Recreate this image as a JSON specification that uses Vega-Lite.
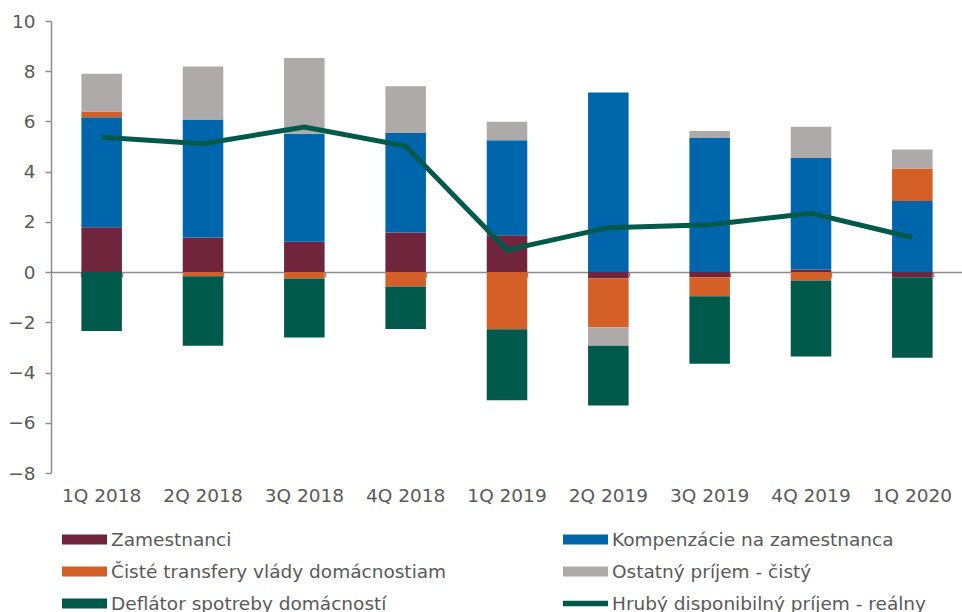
{
  "$schema": "https://vega.github.io/schema/vega-lite/v6.json",
  "width": 912,
  "height": 452,
  "autosize": {"type": "none"},
  "padding": {"left": 51, "top": 21, "right": 0, "bottom": 139},
  "config": {
    "view": {"stroke": null},
    "font": "DejaVu Sans",
    "axis": {"labelFont": "DejaVu Sans", "labelColor": "#595959", "labelFontSize": 18.5, "grid": false}
  },
  "datasets": {
    "bars": [
      {"q": "1Q 2018", "series": "Zamestnanci", "ord": 1, "value": 1.79},
      {"q": "1Q 2018", "series": "Kompenzácie na zamestnanca", "ord": 2, "value": 4.38},
      {"q": "1Q 2018", "series": "Čisté transfery vlády domácnostiam", "ord": 3, "value": 0.23},
      {"q": "1Q 2018", "series": "Ostatný príjem - čistý", "ord": 4, "value": 1.5},
      {"q": "1Q 2018", "series": "Deflátor spotreby domácností", "ord": 5, "value": -2.35},
      {"q": "2Q 2018", "series": "Zamestnanci", "ord": 1, "value": 1.38},
      {"q": "2Q 2018", "series": "Kompenzácie na zamestnanca", "ord": 2, "value": 4.7},
      {"q": "2Q 2018", "series": "Čisté transfery vlády domácnostiam", "ord": 3, "value": -0.16},
      {"q": "2Q 2018", "series": "Ostatný príjem - čistý", "ord": 4, "value": 2.11},
      {"q": "2Q 2018", "series": "Deflátor spotreby domácností", "ord": 5, "value": -2.77},
      {"q": "3Q 2018", "series": "Zamestnanci", "ord": 1, "value": 1.21},
      {"q": "3Q 2018", "series": "Kompenzácie na zamestnanca", "ord": 2, "value": 4.3},
      {"q": "3Q 2018", "series": "Čisté transfery vlády domácnostiam", "ord": 3, "value": -0.25},
      {"q": "3Q 2018", "series": "Ostatný príjem - čistý", "ord": 4, "value": 3.02},
      {"q": "3Q 2018", "series": "Deflátor spotreby domácností", "ord": 5, "value": -2.35},
      {"q": "4Q 2018", "series": "Zamestnanci", "ord": 1, "value": 1.58},
      {"q": "4Q 2018", "series": "Kompenzácie na zamestnanca", "ord": 2, "value": 3.96},
      {"q": "4Q 2018", "series": "Čisté transfery vlády domácnostiam", "ord": 3, "value": -0.57},
      {"q": "4Q 2018", "series": "Ostatný príjem - čistý", "ord": 4, "value": 1.86},
      {"q": "4Q 2018", "series": "Deflátor spotreby domácností", "ord": 5, "value": -1.7},
      {"q": "1Q 2019", "series": "Zamestnanci", "ord": 1, "value": 1.47},
      {"q": "1Q 2019", "series": "Kompenzácie na zamestnanca", "ord": 2, "value": 3.78},
      {"q": "1Q 2019", "series": "Čisté transfery vlády domácnostiam", "ord": 3, "value": -2.28},
      {"q": "1Q 2019", "series": "Ostatný príjem - čistý", "ord": 4, "value": 0.74},
      {"q": "1Q 2019", "series": "Deflátor spotreby domácností", "ord": 5, "value": -2.82},
      {"q": "2Q 2019", "series": "Zamestnanci", "ord": 1, "value": -0.25},
      {"q": "2Q 2019", "series": "Kompenzácie na zamestnanca", "ord": 2, "value": 7.15},
      {"q": "2Q 2019", "series": "Čisté transfery vlády domácnostiam", "ord": 3, "value": -1.95},
      {"q": "2Q 2019", "series": "Ostatný príjem - čistý", "ord": 4, "value": -0.73},
      {"q": "2Q 2019", "series": "Deflátor spotreby domácností", "ord": 5, "value": -2.38},
      {"q": "3Q 2019", "series": "Zamestnanci", "ord": 1, "value": -0.2},
      {"q": "3Q 2019", "series": "Kompenzácie na zamestnanca", "ord": 2, "value": 5.34},
      {"q": "3Q 2019", "series": "Čisté transfery vlády domácnostiam", "ord": 3, "value": -0.76},
      {"q": "3Q 2019", "series": "Ostatný príjem - čistý", "ord": 4, "value": 0.28},
      {"q": "3Q 2019", "series": "Deflátor spotreby domácností", "ord": 5, "value": -2.69},
      {"q": "4Q 2019", "series": "Zamestnanci", "ord": 1, "value": 0.1},
      {"q": "4Q 2019", "series": "Kompenzácie na zamestnanca", "ord": 2, "value": 4.44},
      {"q": "4Q 2019", "series": "Čisté transfery vlády domácnostiam", "ord": 3, "value": -0.33},
      {"q": "4Q 2019", "series": "Ostatný príjem - čistý", "ord": 4, "value": 1.25},
      {"q": "4Q 2019", "series": "Deflátor spotreby domácností", "ord": 5, "value": -3.03},
      {"q": "1Q 2020", "series": "Zamestnanci", "ord": 1, "value": -0.2},
      {"q": "1Q 2020", "series": "Kompenzácie na zamestnanca", "ord": 2, "value": 2.83},
      {"q": "1Q 2020", "series": "Čisté transfery vlády domácnostiam", "ord": 3, "value": 1.3},
      {"q": "1Q 2020", "series": "Ostatný príjem - čistý", "ord": 4, "value": 0.75},
      {"q": "1Q 2020", "series": "Deflátor spotreby domácností", "ord": 5, "value": -3.21}
    ],
    "line": [
      {"q": "1Q 2018", "series": "Hrubý disponibilný príjem - reálny", "value": 5.37},
      {"q": "2Q 2018", "series": "Hrubý disponibilný príjem - reálny", "value": 5.11},
      {"q": "3Q 2018", "series": "Hrubý disponibilný príjem - reálny", "value": 5.78},
      {"q": "4Q 2018", "series": "Hrubý disponibilný príjem - reálny", "value": 5.02},
      {"q": "1Q 2019", "series": "Hrubý disponibilný príjem - reálny", "value": 0.88},
      {"q": "2Q 2019", "series": "Hrubý disponibilný príjem - reálny", "value": 1.77},
      {"q": "3Q 2019", "series": "Hrubý disponibilný príjem - reálny", "value": 1.89},
      {"q": "4Q 2019", "series": "Hrubý disponibilný príjem - reálny", "value": 2.34},
      {"q": "1Q 2020", "series": "Hrubý disponibilný príjem - reálny", "value": 1.38}
    ]
  },
  "resolve": {"axis": {"x": "independent", "y": "independent"}},
  "layer": [
    {
      "data": {"name": "bars"},
      "mark": {"type": "bar"},
      "encoding": {
        "x": {
          "field": "q", "type": "nominal", "sort": null,
          "scale": {"type": "band", "paddingInner": 0.6, "paddingOuter": 0.3},
          "axis": {"orient": "bottom", "offset": -201, "labels": false, "title": null,
                   "domain": true, "domainColor": "#8c8c8c", "domainWidth": 1.5,
                   "ticks": true, "tickBand": "extent", "tickSize": 5, "tickColor": "#8c8c8c", "tickWidth": 1.5}
        },
        "y": {
          "field": "value", "type": "quantitative", "stack": "zero",
          "scale": {"domain": [-8, 10], "nice": false},
          "axis": {"values": [-8, -6, -4, -2, 0, 2, 4, 6, 8, 10], "title": null,
                   "domainColor": "#8c8c8c", "domainWidth": 1.5,
                   "tickColor": "#8c8c8c", "tickSize": 6, "tickWidth": 1.5, "labelPadding": 10}
        },
        "color": {
          "field": "series", "type": "nominal",
          "scale": {
            "domain": ["Zamestnanci", "Kompenzácie na zamestnanca", "Čisté transfery vlády domácnostiam", "Ostatný príjem - čistý", "Deflátor spotreby domácností", "Hrubý disponibilný príjem - reálny"],
            "range": ["#70253d", "#0066ab", "#d45f27", "#aeaaa9", "#005a4b", "#005a4b"]
          },
          "legend": {
            "orient": "none", "legendX": 11, "legendY": 496, "direction": "horizontal", "columns": 2,
            "title": null, "symbolType": "M-1,-0.22H1V0.22H-1Z", "symbolSize": 2025, "symbolStrokeWidth": 0,
            "labelFontSize": 18.5, "labelColor": "#595959", "labelFont": "DejaVu Sans", "labelOffset": 4,
            "labelLimit": 500, "rowPadding": -15, "columnPadding": 116, "gridAlign": "all",
            "encode": {
              "symbols": {
                "update": {
                  "shape": {"signal": "datum.value === 'Hrubý disponibilný príjem - reálny' ? 'M-1,-0.12H1V0.12H-1Z' : 'M-1,-0.22H1V0.22H-1Z'"}
                }
              }
            }
          }
        },
        "order": {"field": "ord"}
      }
    },
    {
      "data": {"name": "line"},
      "mark": {"type": "line", "strokeWidth": 5, "strokeCap": "butt"},
      "encoding": {
        "x": {
          "field": "q", "type": "nominal", "sort": null,
          "axis": {"orient": "bottom", "title": null, "domain": false, "ticks": false, "labelPadding": 13, "labelAngle": 0}
        },
        "y": {"field": "value", "type": "quantitative", "axis": null},
        "color": {"field": "series", "type": "nominal"}
      }
    }
  ]
}
